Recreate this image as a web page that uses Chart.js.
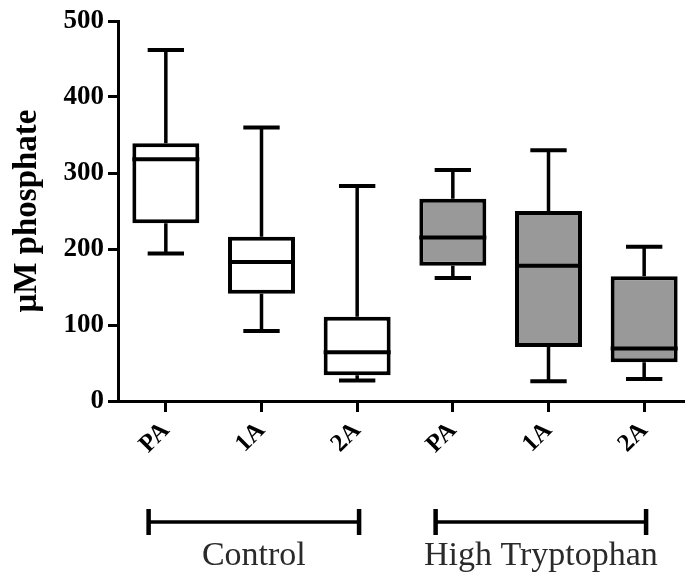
<!DOCTYPE html>
<html>
<head>
<meta charset="utf-8">
<script src="https://cdn.jsdelivr.net/npm/chart.js@4/dist/chart.umd.min.js"></script>
<style>
    html, body { margin: 0; padding: 0; background: #fff; overflow: hidden; }
    #wrap { width: 692px; height: 579px; position: relative; }
</style>
</head>
<body>
<div id="wrap"><canvas id="chart"></canvas></div>
<script>
// --- Dati ---
const categories = ['PA', '1A', '2A', 'PA', '1A', '2A'];
const groups = ['Control', 'High Tryptophan'];
const groupOf = [0, 0, 0, 1, 1, 1];
const whiskerMin = [194, 92, 27, 162, 26, 29];
const quartile1 = [234, 141, 34, 178, 71, 51];
const medians = [318, 183, 64, 215, 178, 69];
const quartile3 = [339, 216, 111, 266, 250, 164];
const whiskerMax = [462, 360, 283, 304, 330, 203];
const yTicks = [0, 100, 200, 300, 400, 500];

const groupFill = ['#ffffff', '#999999'];
const SERIF = '"Liberation Serif", "Times New Roman", serif';

// --- Plugin: baffi, mediane e parentesi dei gruppi ---
const boxPlotPlugin = {
    id: 'boxPlot',
    afterDatasetsDraw(chart) {
        const { ctx, scales: { x, y } } = chart;
        const step = x.getPixelForValue(1) - x.getPixelForValue(0);
        const meta = chart.getDatasetMeta(0);
        ctx.save();
        ctx.strokeStyle = '#000';
        ctx.lineCap = 'butt';
        categories.forEach((c, i) => {
            const cx = x.getPixelForValue(i);
            const capHalf = step * 0.19;
            // baffi
            ctx.lineWidth = 3.5;
            ctx.beginPath();
            ctx.moveTo(cx, y.getPixelForValue(quartile3[i]));
            ctx.lineTo(cx, y.getPixelForValue(whiskerMax[i]));
            ctx.moveTo(cx, y.getPixelForValue(quartile1[i]));
            ctx.lineTo(cx, y.getPixelForValue(whiskerMin[i]));
            ctx.stroke();
            ctx.lineWidth = 4;
            ctx.beginPath();
            ctx.moveTo(cx - capHalf, y.getPixelForValue(whiskerMax[i]));
            ctx.lineTo(cx + capHalf, y.getPixelForValue(whiskerMax[i]));
            ctx.moveTo(cx - capHalf, y.getPixelForValue(whiskerMin[i]));
            ctx.lineTo(cx + capHalf, y.getPixelForValue(whiskerMin[i]));
            ctx.stroke();
            // mediana
            const bar = meta.data[i];
            const half = bar.width / 2;
            ctx.lineWidth = 4;
            ctx.beginPath();
            ctx.moveTo(cx - half, y.getPixelForValue(medians[i]));
            ctx.lineTo(cx + half, y.getPixelForValue(medians[i]));
            ctx.stroke();
        });
        ctx.restore();
    },
    afterDraw(chart) {
        const { ctx, scales: { x } } = chart;
        ctx.save();
        groups.forEach((g, gi) => {
            const idx = groupOf.map((v, i) => v === gi ? i : -1).filter(i => i >= 0);
            const x0 = x.getPixelForValue(idx[0] - 0.18);
            const x1 = x.getPixelForValue(idx[idx.length - 1] + 0.02);
            const yLine = 522;
            ctx.strokeStyle = '#000';
            ctx.lineWidth = 3.5;
            ctx.beginPath();
            ctx.moveTo(x0, yLine);
            ctx.lineTo(x1, yLine);
            ctx.stroke();
            ctx.lineWidth = 4.5;
            ctx.beginPath();
            ctx.moveTo(x0, yLine - 13);
            ctx.lineTo(x0, yLine + 13);
            ctx.moveTo(x1, yLine - 13);
            ctx.lineTo(x1, yLine + 13);
            ctx.stroke();
            ctx.fillStyle = '#2a2a2a';
            ctx.font = '34px ' + SERIF;
            ctx.textAlign = 'center';
            ctx.textBaseline = 'middle';
            ctx.fillText(g, (x0 + x1) / 2, 556);
        });
        ctx.restore();
    }
};

const ctx = document.getElementById('chart').getContext('2d');
new Chart(ctx, {
    type: 'bar',
    data: {
        labels: categories,
        datasets: [{
            data: categories.map((c, i) => [quartile1[i], quartile3[i]]),
            backgroundColor: groupOf.map(g => groupFill[g]),
            borderColor: '#000',
            borderWidth: 4,
            borderSkipped: false,
            barPercentage: 0.7,
            categoryPercentage: 1.0
        }]
    },
    options: {
        responsive: true,
        maintainAspectRatio: false,
        animation: false,
        layout: { padding: { top: 21, right: 0, bottom: 0, left: 0 } },
        plugins: {
            legend: { display: false },
            tooltip: { enabled: false }
        },
        scales: {
            x: {
                grid: {
                    display: true,
                    drawOnChartArea: false,
                    drawTicks: true,
                    offset: false,
                    tickLength: 11,
                    color: '#000',
                    lineWidth: 3
                },
                border: { display: true, color: '#000', width: 3 },
                ticks: {
                    color: '#000',
                    font: { family: SERIF, size: 25, weight: 'bold' },
                    minRotation: 45,
                    maxRotation: 45,
                    padding: 4
                },
                afterFit: (s) => { s.height = 178; }
            },
            y: {
                min: 0,
                max: 500,
                afterBuildTicks: (s) => { s.ticks = yTicks.map(v => ({ value: v })); },
                grid: {
                    display: true,
                    drawOnChartArea: false,
                    drawTicks: true,
                    tickLength: 10,
                    color: '#000',
                    lineWidth: 3
                },
                border: { display: true, color: '#000', width: 3 },
                ticks: {
                    color: '#000',
                    font: { family: SERIF, size: 27, weight: 'bold' },
                    padding: 4
                },
                title: {
                    display: true,
                    text: 'μM phosphate',
                    color: '#000',
                    font: { family: SERIF, size: 33, weight: 'bold' },
                    padding: { top: 8, bottom: 0 }
                },
                afterFit: (s) => { s.width = 118; }
            }
        }
    },
    plugins: [boxPlotPlugin]
});
</script>
</body>
</html>
